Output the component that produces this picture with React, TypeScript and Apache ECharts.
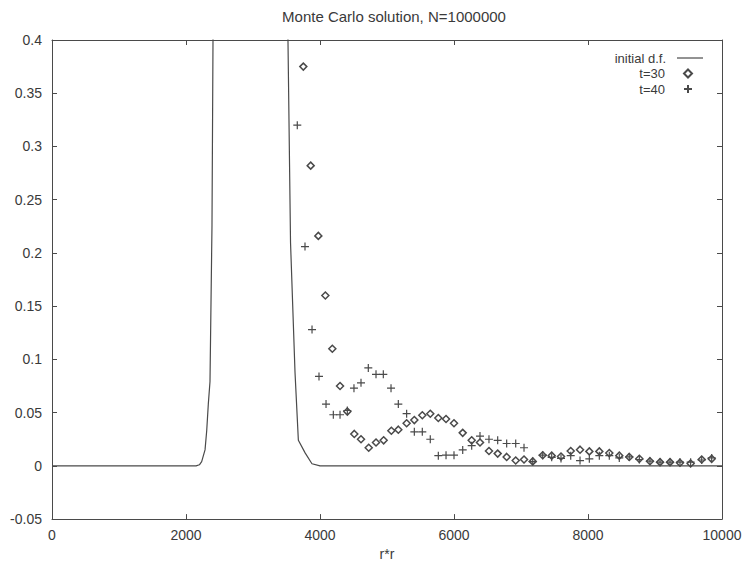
import React, { useEffect, useRef } from "react";
import * as echarts from "echarts";

const chartTitle = "Monte Carlo solution, N=1000000";
const xAxisName = "r*r";
const legendNames = ["initial d.f.", "t=30", "t=40"];

// initial distribution function (line); the peak is clipped by the axis max
const initX = [0, 1000, 2000, 2150, 2200, 2234, 2284, 2309, 2333, 2358, 2388, 2403, 2420, 3500, 3522, 3560, 3627, 3677, 3780, 3880, 4000, 6000, 8000, 10000];
const initY = [0, 0, 0, 0, 0.001, 0.004, 0.015, 0.033, 0.058, 0.079, 0.226, 0.4, 0.55, 0.55, 0.4, 0.21, 0.088, 0.024, 0.012, 0.002, 0, 0, 0, 0];

// t=30 (diamonds)
const t30X = [3751, 3861, 3975, 4080, 4184, 4299, 4408, 4512, 4612, 4727, 4836, 4950, 5065, 5169, 5293, 5408, 5527, 5646, 5766, 5881, 6000, 6130, 6264, 6388, 6522, 6652, 6786, 6921, 7045, 7175, 7324, 7458, 7597, 7742, 7881, 8020, 8169, 8318, 8467, 8616, 8766, 8925, 9075, 9224, 9373, 9532, 9697, 9846];
const t30Y = [0.375, 0.282, 0.216, 0.16, 0.11, 0.075, 0.051, 0.03, 0.025, 0.017, 0.022, 0.024, 0.033, 0.034, 0.04, 0.043, 0.0475, 0.049, 0.045, 0.044, 0.04, 0.031, 0.024, 0.022, 0.014, 0.0115, 0.0084, 0.005, 0.006, 0.0042, 0.01, 0.0096, 0.0088, 0.014, 0.0152, 0.0136, 0.0136, 0.012, 0.0096, 0.0084, 0.0066, 0.0044, 0.0035, 0.0035, 0.003, 0.0023, 0.006, 0.0066];

// t=40 (plus signs)
const t40X = [3661, 3776, 3881, 3985, 4090, 4199, 4299, 4408, 4507, 4612, 4721, 4836, 4945, 5060, 5169, 5293, 5408, 5527, 5646, 5766, 5881, 6000, 6130, 6264, 6388, 6522, 6652, 6786, 6921, 7045, 7175, 7324, 7458, 7597, 7742, 7881, 8020, 8169, 8318, 8467, 8616, 8766, 8925, 9075, 9224, 9373, 9532, 9697, 9846];
const t40Y = [0.32, 0.206, 0.128, 0.084, 0.058, 0.048, 0.048, 0.052, 0.073, 0.078, 0.092, 0.086, 0.086, 0.073, 0.058, 0.049, 0.032, 0.032, 0.025, 0.0096, 0.01, 0.01, 0.015, 0.019, 0.028, 0.025, 0.024, 0.021, 0.021, 0.017, 0.004, 0.01, 0.008, 0.007, 0.0096, 0.005, 0.0066, 0.0096, 0.0096, 0.0075, 0.0084, 0.006, 0.0044, 0.0035, 0.0035, 0.0035, 0.0035, 0.0055, 0.0075];

const xMin = 0, xMax = 10000, xStep = 2000;
const yMin = -0.05, yMax = 0.4, yStep = 0.05;

const INK = "#4a4a4a";
const TXT = "#3a3a3a";
const FONT = "'Liberation Sans', Arial, Helvetica, sans-serif";
const PLUS = "path://M0,5L10,5M5,0L5,10";

export default function App() {
  const ref = useRef<HTMLDivElement>(null);
  useEffect(() => {
    if (!ref.current) return;
    const chart = echarts.init(ref.current, null, { renderer: "svg" });
    const zip = (xs: number[], ys: number[]) => xs.map((x, i) => [x, ys[i]]);
    const axisCommon = {
      type: "value" as const,
      axisLine: { show: true, onZero: false, lineStyle: { color: INK, width: 1 } },
      axisTick: { show: true, inside: true, length: 5, lineStyle: { color: INK, width: 1 } },
      splitLine: { show: false },
    };
    const fmtY = (v: number) => String(+v.toFixed(2));
    const fmtX = (v: number) => String(Math.round(v));
    const legendText = (pad: number) => ({
      fontFamily: FONT,
      fontSize: 13,
      lineHeight: 14,
      color: TXT,
      padding: [0, pad, 0, 0],
    });
    chart.setOption({
      animation: false,
      backgroundColor: "#ffffff",
      title: {
        text: chartTitle,
        left: 389,
        textAlign: "center",
        top: 4,
        textStyle: { fontFamily: FONT, fontSize: 15, fontWeight: "normal", color: TXT },
      },
      grid: { left: 52, right: 23, top: 40, bottom: 35, containLabel: false },
      legend: [
        {
          data: [{ name: legendNames[0], icon: "rect" }],
          right: 42,
          top: 51,
          padding: 0,
          itemWidth: 26,
          itemHeight: 1.2,
          align: "right",
          textStyle: legendText(6),
        },
        {
          data: [legendNames[1]],
          right: 52,
          top: 66.5,
          padding: 0,
          itemWidth: 8,
          itemHeight: 8,
          align: "right",
          textStyle: legendText(14),
        },
        {
          data: [legendNames[2]],
          right: 52,
          top: 82,
          padding: 0,
          itemWidth: 8,
          itemHeight: 8,
          align: "right",
          textStyle: legendText(14),
        },
      ],
      xAxis: [
        {
          ...axisCommon,
          min: xMin,
          max: xMax,
          interval: xStep,
          position: "bottom",
          name: xAxisName,
          nameLocation: "middle",
          nameGap: 22,
          nameTextStyle: { fontFamily: FONT, fontSize: 14, color: TXT },
          axisLabel: { fontFamily: FONT, fontSize: 14, color: TXT, margin: 9, formatter: fmtX },
        },
        {
          ...axisCommon,
          min: xMin,
          max: xMax,
          interval: xStep,
          position: "top",
          axisLabel: { show: false },
        },
      ],
      yAxis: [
        {
          ...axisCommon,
          min: yMin,
          max: yMax,
          interval: yStep,
          position: "left",
          axisLabel: { fontFamily: FONT, fontSize: 14, color: TXT, margin: 10, formatter: fmtY },
        },
        {
          ...axisCommon,
          min: yMin,
          max: yMax,
          interval: yStep,
          position: "right",
          axisLabel: { show: false },
        },
      ],
      series: [
        {
          name: legendNames[0],
          type: "line",
          data: zip(initX, initY),
          showSymbol: false,
          symbol: "none",
          clip: true,
          lineStyle: { color: INK, width: 1.2 },
          itemStyle: { color: INK },
        },
        {
          name: legendNames[1],
          type: "scatter",
          data: zip(t30X, t30Y),
          symbol: "diamond",
          symbolSize: 7,
          itemStyle: { color: "rgba(255,255,255,0)", borderColor: INK, borderWidth: 1.5, opacity: 1 },
        },
        {
          name: legendNames[2],
          type: "scatter",
          data: zip(t40X, t40Y),
          symbol: PLUS,
          symbolSize: 8,
          itemStyle: { color: "rgba(255,255,255,0)", borderColor: INK, borderWidth: 1.2, opacity: 1 },
        },
      ],
    });
    return () => chart.dispose();
  }, []);
  return (
    <div
      ref={ref}
      style={{ position: "fixed", left: 0, top: 0, width: 745, height: 566, background: "#fff" }}
    />
  );
}
